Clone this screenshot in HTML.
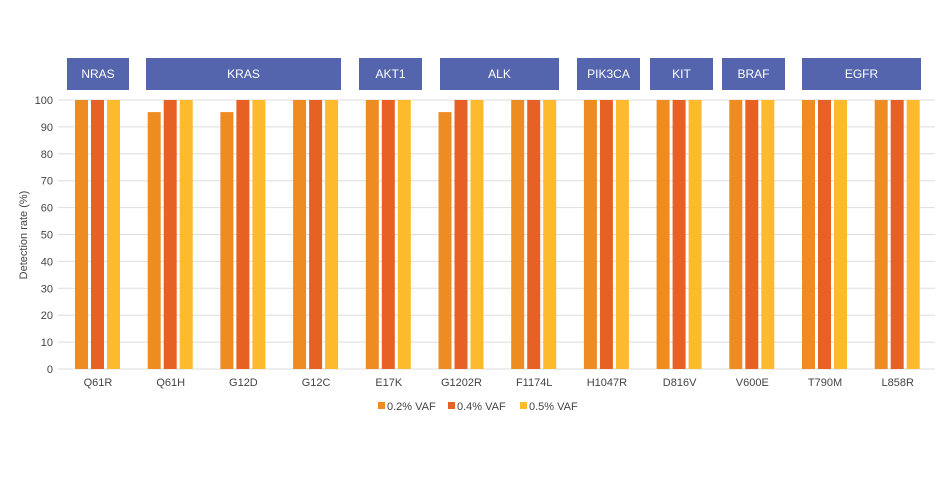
<!DOCTYPE html>
<html><head><style>
body{margin:0;background:#fff;font-family:"Liberation Sans",sans-serif;}
</style></head><body>
<svg width="950" height="475" xmlns="http://www.w3.org/2000/svg" font-family="Liberation Sans, sans-serif">
<rect width="950" height="475" fill="#fff"/>
<g id="grid" stroke="#dedede" stroke-width="1"></g>
<g id="yl" font-size="11" fill="#444" text-anchor="end"></g>
<g id="bars"></g>
<g id="xl" font-size="11" fill="#444" text-anchor="middle"></g>
<g id="hdr" font-size="12" fill="#fff" text-anchor="middle"></g>
<text x="27" y="235" font-size="11" fill="#444" text-anchor="middle" transform="rotate(-90 27 235)">Detection rate (%)</text>
<rect x="378" y="402" width="7" height="7" fill="#ee8c22"/><text x="387" y="410" font-size="11" fill="#444">0.2% VAF</text>
<rect x="448" y="402" width="7" height="7" fill="#e86124"/><text x="457" y="410" font-size="11" fill="#444">0.4% VAF</text>
<rect x="520" y="402" width="7" height="7" fill="#fdba2c"/><text x="529" y="410" font-size="11" fill="#444">0.5% VAF</text>
</svg>
<script>
const ns="http://www.w3.org/2000/svg";
function el(p,t,a,txt){const e=document.createElementNS(ns,t);for(const k in a)e.setAttribute(k,a[k]);if(txt!==undefined)e.textContent=txt;document.getElementById(p).appendChild(e);}
const y0=369,sc=2.69;
for(let v=0;v<=100;v+=10){const y=y0-v*sc;el("grid","line",{x1:58,x2:935,y1:y,y2:y});el("yl","text",{x:53,y:y+4},v);}
const cats=["Q61R","Q61H","G12D","G12C","E17K","G1202R","F1174L","H1047R","D816V","V600E","T790M","L858R"];
const low={1:95.5,2:95.5,5:95.5};
const cols=["#ee8c22","#e86124","#fdba2c"];
cats.forEach((c,i)=>{const cx=98+i*72.7;
 for(let j=0;j<3;j++){const v=j==0&&low[i]?low[i]:100;const h=v*sc;el("bars","rect",{x:cx-23+j*16,y:y0-h,width:13,height:h,fill:cols[j]});}
 el("xl","text",{x:cx,y:386},c);});
const H=[["NRAS",67,129],["KRAS",146,341],["AKT1",359,422],["ALK",440,559],["PIK3CA",577,640],["KIT",650,713],["BRAF",722,785],["EGFR",802,921]];
H.forEach(h=>{el("hdr","rect",{x:h[1],y:58,width:h[2]-h[1],height:32,fill:"#5565ad"});el("hdr","text",{x:(h[1]+h[2])/2,y:78},h[0]);});
</script>
</body></html>
